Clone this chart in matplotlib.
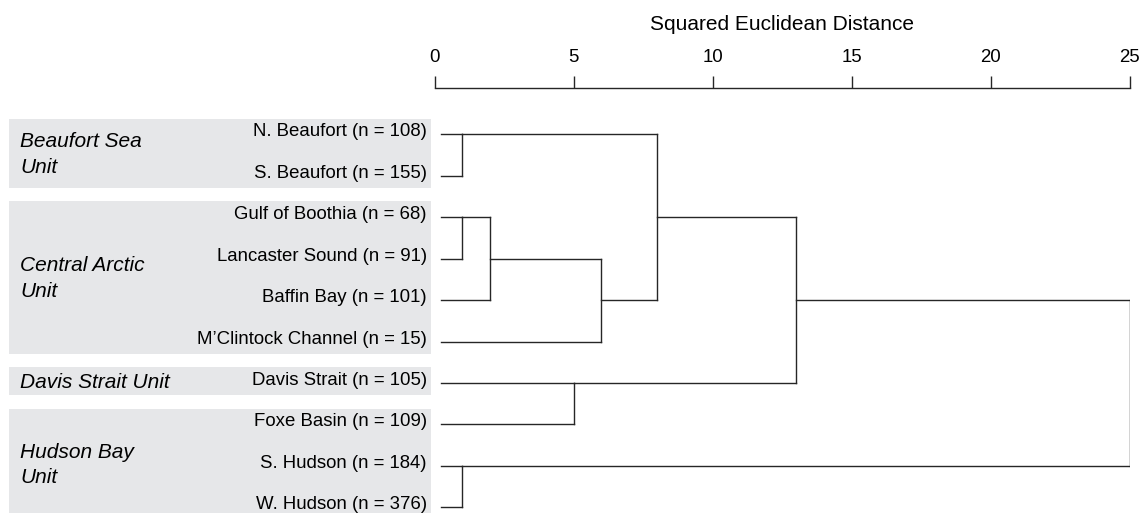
import matplotlib
matplotlib.use("Agg")
import matplotlib.pyplot as plt
from matplotlib.patches import Rectangle
from matplotlib.transforms import blended_transform_factory

# leaves, top to bottom
leaf_names = ["N. Beaufort", "S. Beaufort", "Gulf of Boothia", "Lancaster Sound",
              "Baffin Bay", "M\u2019Clintock Channel", "Davis Strait", "Foxe Basin",
              "S. Hudson", "W. Hudson"]
leaf_n = [108, 155, 68, 91, 101, 15, 105, 109, 184, 376]

# merges (node ids: leaves 0-9, new clusters 10, 11, ...)
merge_left = [0, 2, 11, 12, 10, 6, 14, 8, 16]
merge_right = [1, 3, 4, 5, 13, 7, 15, 9, 17]
merge_dist = [1, 1, 2, 6, 8, 5, 13, 1, 25]

# management units (first and last leaf row)
group_names = ["Beaufort Sea\nUnit", "Central Arctic\nUnit", "Davis Strait Unit", "Hudson Bay\nUnit"]
group_first = [0, 2, 6, 7]
group_last = [1, 5, 6, 9]

plt.rcParams['font.family'] = ['Liberation Sans', 'DejaVu Sans']
line_col = "#262626"
box_col = "#e6e7e9"

fig = plt.figure(figsize=(11.42, 5.13), dpi=100)
W, H = 1142, 513
x0, x1 = 434.5, 1129.6
y_axis = 88.4
row0, row_step = 134.3, 41.44
ax = fig.add_axes([x0 / W, 0, (x1 - x0) / W, (H - y_axis) / H])
ax.set_xlim(0, 25)
ax.set_ylim(9 + (H - 507.3) / row_step, -(row0 - y_axis) / row_step)

# dendrogram, SPSS style (cluster line leaves from the middle row)
leaf_start = 0.25
node_x = [leaf_start] * len(leaf_names)
node_row = list(range(len(leaf_names)))
for a, b, d in zip(merge_left, merge_right, merge_dist):
    ax.plot([node_x[a], d], [node_row[a], node_row[a]], color=line_col, lw=1.0)
    ax.plot([node_x[b], d], [node_row[b], node_row[b]], color=line_col, lw=1.0)
    ax.plot([d, d], [node_row[a], node_row[b]], color=line_col, lw=1.0)
    node_x.append(d)
    node_row.append((node_row[a] + node_row[b]) // 2)

# top axis
for s in ["left", "right", "bottom"]:
    ax.spines[s].set_visible(False)
ax.spines["top"].set_color(line_col)
ax.spines["top"].set_linewidth(1.0)
ax.xaxis.tick_top()
ax.set_xticks([0, 5, 10, 15, 20, 25])
ax.tick_params(axis="x", direction="out", length=9, width=1.0, color=line_col,
               labelsize=13.4, pad=7)
ax.set_yticks([])
fig.text((x0 + x1) / 2 / W, 1 - 25 / H, "Squared Euclidean Distance",
         ha="center", va="center", fontsize=15)

# grey unit boxes and labels
tr = blended_transform_factory(fig.transFigure, ax.transData)
for name, f, l in zip(group_names, group_first, group_last):
    top = f - 0.38
    bot = l + 0.29
    ax.add_patch(Rectangle((9 / W, top), (431 - 9) / W, bot - top, transform=tr,
                           facecolor=box_col, edgecolor="none", clip_on=False, zorder=0))
    ax.text(20 / W, (f + l) / 2 - 0.02, name, transform=tr, ha="left", va="center",
            fontsize=15, style="italic", linespacing=1.45)

for i, (name, n) in enumerate(zip(leaf_names, leaf_n)):
    ax.text(427 / W, i - 0.06, f"{name} (n = {n})", transform=tr, ha="right", va="center",
            fontsize=13.4)

fig.savefig("out.png", dpi=100)
